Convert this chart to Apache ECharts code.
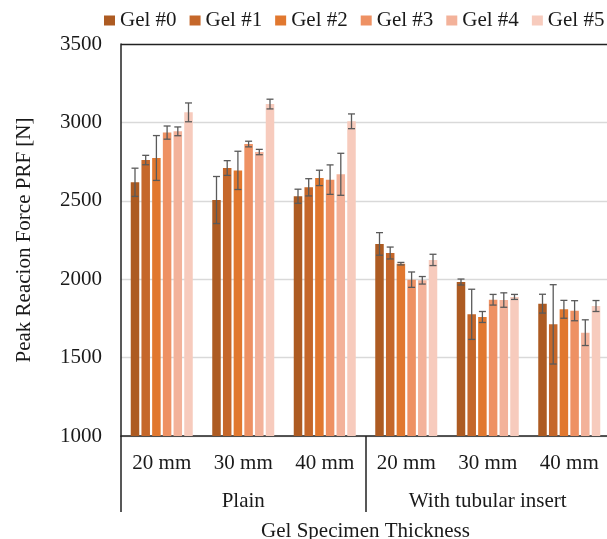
<!DOCTYPE html>
<html><head><meta charset="utf-8">
<script src="https://cdn.jsdelivr.net/npm/echarts@6/dist/echarts.min.js"></script>
<style>html,body{margin:0;padding:0;background:#fff}#c{width:607px;height:539px}</style>
</head><body><div id="c"></div>
<script>
const categories = ['20 mm','30 mm','40 mm','20 mm','30 mm','40 mm'];
const groups = ['Plain','With tubular insert'];
const seriesNames = ['Gel #0','Gel #1','Gel #2','Gel #3','Gel #4','Gel #5'];
const gel0 = [2618, 2505, 2529, 2225, 1982, 1844];
const gel1 = [2760, 2709, 2586, 2167, 1776, 1712];
const gel2 = [2773, 2694, 2646, 2099, 1759, 1808];
const gel3 = [2935, 2862, 2635, 1997, 1869, 1799];
const gel4 = [2943, 2811, 2669, 1993, 1867, 1659];
const gel5 = [3064, 3117, 3007, 2123, 1887, 1829];
const err0 = [90, 150, 45, 72, 19, 60];
const err1 = [30, 47, 55, 38, 160, 253];
const err2 = [143, 122, 49, 8, 35, 57];
const err3 = [42, 18, 94, 49, 34, 64];
const err4 = [28, 17, 134, 24, 46, 82];
const err5 = [60, 31, 47, 36, 16, 35];
const yTicks = [1000, 1500, 2000, 2500, 3000, 3500];

const values = [gel0, gel1, gel2, gel3, gel4, gel5];
const errors = [err0, err1, err2, err3, err4, err5];
const colors = ['#AD5B22','#C5672A','#E1782F','#EE9163','#F3B29A','#F7CBBD'];
const FONT = 'Liberation Serif';
const BAR_W = 8.5, GAP = 2.2;

const chart = echarts.init(document.getElementById('c'), null, {renderer:'canvas'});
const series = [];
values.forEach((v, i) => {
  series.push({
    name: seriesNames[i], type: 'bar', data: v, barWidth: BAR_W, barGap: (GAP / BAR_W * 100) + '%',
    itemStyle: {color: colors[i]}, z: 2
  });
});
values.forEach((v, i) => {
  const off = (i - 2.5) * (BAR_W + GAP);
  series.push({
    name: 'err' + i, type: 'custom', z: 5,
    data: v.map((val, k) => [k, val, errors[i][k]]),
    renderItem: function (params, api) {
      const k = api.value(0), val = api.value(1), e = api.value(2);
      const hi = api.coord([k, val + e]);
      const lo = api.coord([k, val - e]);
      const x = hi[0] + off;
      const cw = 3.5;
      const st = {stroke: '#5a5a5a', lineWidth: 1.3};
      return {type: 'group', children: [
        {type: 'line', shape: {x1: x, y1: hi[1], x2: x, y2: lo[1]}, style: st},
        {type: 'line', shape: {x1: x - cw, y1: hi[1], x2: x + cw, y2: hi[1]}, style: st},
        {type: 'line', shape: {x1: x - cw, y1: lo[1], x2: x + cw, y2: lo[1]}, style: st}
      ]};
    }
  });
});

const splitColors = yTicks.map((t, i) => i === yTicks.length - 1 ? '#222' : '#D9D9D9');

chart.setOption({
  animation: false,
  textStyle: {fontFamily: FONT},
  legend: {
    data: seriesNames, top: 5, left: 99, width: 560, itemWidth: 11, itemHeight: 10, itemGap: 13,
    icon: 'rect',
    textStyle: {fontFamily: FONT, fontSize: 21, color: '#1a1a1a'}
  },
  grid: {left: 121, top: 44, width: 489, bottom: 103, show: false, outerBoundsMode: 'none', containLabel: false},
  xAxis: [{
    type: 'category', data: categories, position: 'bottom',
    axisLine: {show: true, lineStyle: {color: '#222', width: 1.5}},
    axisTick: {show: false},
    axisLabel: {fontFamily: FONT, fontSize: 21, color: '#1a1a1a', margin: 17, interval: 0},
    name: 'Gel Specimen Thickness', nameLocation: 'middle', nameGap: 85,
    nameTextStyle: {fontFamily: FONT, fontSize: 21, color: '#1a1a1a'}
  }, {
    type: 'category', data: groups, position: 'bottom',
    axisLine: {show: false},
    axisTick: {show: true, length: 76, lineStyle: {color: '#222', width: 1.5}},
    axisLabel: {fontFamily: FONT, fontSize: 21, color: '#1a1a1a', margin: 55, interval: 0},
    splitLine: {show: false}
  }],
  yAxis: {
    type: 'value', min: yTicks[0], max: yTicks[yTicks.length - 1], interval: yTicks[1] - yTicks[0],
    axisLine: {show: true, lineStyle: {color: '#222', width: 1.5}},
    axisTick: {show: false},
    axisLabel: {fontFamily: FONT, fontSize: 21, color: '#1a1a1a', margin: 19, formatter: v => String(v)},
    splitLine: {show: true, lineStyle: {color: splitColors, width: 1.3}},
    name: 'Peak Reacion Force PRF [N]', nameLocation: 'middle', nameGap: 86, nameRotate: 90,
    nameTextStyle: {fontFamily: FONT, fontSize: 21, color: '#1a1a1a'}
  },
  series: series
});
</script></body></html>
